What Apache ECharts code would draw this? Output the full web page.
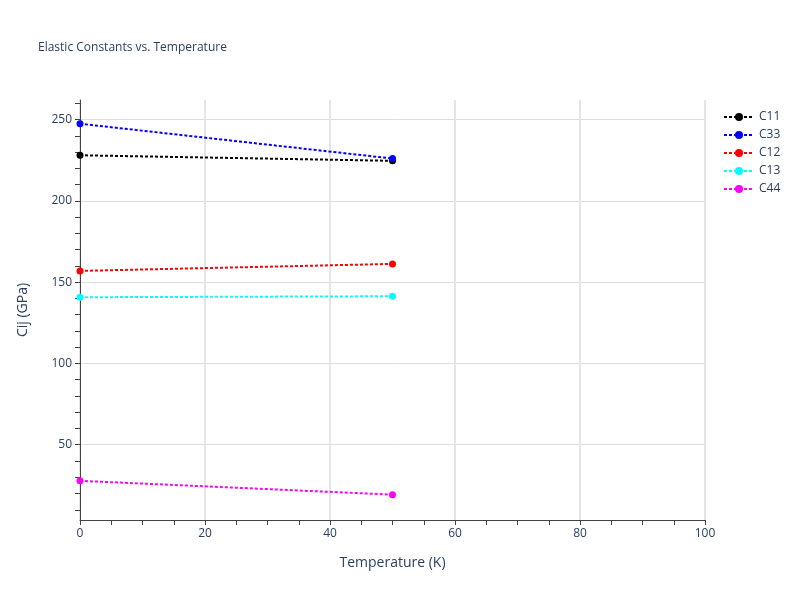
<!DOCTYPE html>
<html><head><meta charset="utf-8">
<script src="https://cdn.jsdelivr.net/npm/echarts@6/dist/echarts.min.js"></script>
<style>body{margin:0}#main{width:800px;height:600px}</style>
</head><body><div id="main"></div>
<script>
var temps = [0, 50];
var c11 = [228.0, 224.6];
var c33 = [247.4, 226.0];
var c12 = [156.9, 161.2];
var c13 = [140.7, 141.3];
var c44 = [27.8, 19.3];
var yTicks = [50, 100, 150, 200, 250];
var xTicks = [0, 20, 40, 60, 80, 100];
var yMinor = [10,20,30,40,50,60,70,80,90,100,110,120,130,140,150,160,170,180,190,200,210,220,230,240,250,260];
var xMinor = [0,5,10,15,20,25,30,35,40,45,50,55,60,65,70,75,80,85,90,95,100];

var names = ['C11', 'C33', 'C12', 'C13', 'C44'];
var colors = ['#000000', '#0000ff', '#ff0000', '#00ffff', '#ff00ff'];
var vals = [c11, c33, c12, c13, c44];

var series = [];
for (var i = 0; i < names.length; i++) {
    var pts = [];
    for (var j = 0; j < temps.length; j++) pts.push([temps[j], vals[i][j]]);
    series.push({
        name: names[i], type: 'line', data: pts,
        symbol: 'circle', symbolSize: 7,
        itemStyle: { color: colors[i] },
        lineStyle: { color: colors[i], width: 2, type: [3, 2] }
    });
}

var axisBase = {
    type: 'value',
    axisLine: { show: true, onZero: false, lineStyle: { color: '#444' } },
    splitLine: { show: false }
};

var myChart = echarts.init(document.getElementById('main'));
myChart.setOption({
    animation: false,
    textStyle: { fontFamily: 'Open Sans, sans-serif', color: '#444' },
    title: {
        text: 'Elastic Constants vs. Temperature', left: 33, top: 37,
        textStyle: { fontSize: 12, fontWeight: 'normal', color: '#2a3f5f' }
    },
    legend: {
        orient: 'vertical', left: 718, top: 106, itemGap: 6,
        itemWidth: 30, itemHeight: 10,
        textStyle: { fontSize: 12, color: '#2a3f5f' },
        data: names
    },
    grid: { left: 80, right: 95, top: 100, bottom: 80 },
    xAxis: [Object.assign({}, axisBase, {
        min: 0, max: 100,
        name: 'Temperature (K)', nameLocation: 'middle', nameGap: 36,
        nameTextStyle: { fontSize: 14, color: '#2a3f5f' },
        axisTick: { show: true, length: 5, customValues: xMinor, lineStyle: { color: '#444' } },
        axisLabel: { customValues: xTicks, color: '#2a3f5f', fontSize: 12 }
    }), {
        type: 'value', min: 0, max: 100, position: 'bottom',
        axisLine: { show: false }, axisTick: { show: false }, axisLabel: { show: false },
        axisLabel: { show: false, customValues: xTicks }, axisTick: { show: false, customValues: xTicks },
        splitLine: { show: true, lineStyle: { color: '#e5e5e5', width: 2 } }
    }],
    yAxis: [Object.assign({}, axisBase, {
        min: 3.7, max: 262,
        name: 'Cij (GPa)', nameLocation: 'middle', nameGap: 50,
        nameTextStyle: { fontSize: 14, color: '#2a3f5f' },
        axisTick: { show: true, length: 5, customValues: yMinor, lineStyle: { color: '#444' } },
        axisLabel: { customValues: yTicks, color: '#2a3f5f', fontSize: 12 }
    }), {
        type: 'value', min: 3.7, max: 262, position: 'left',
        axisLine: { show: false },
        axisLabel: { show: false, customValues: yTicks }, axisTick: { show: false, customValues: yTicks },
        splitLine: { show: true, lineStyle: { color: '#dddddd', width: 1 } }
    }],
    series: series
});
</script></body></html>
